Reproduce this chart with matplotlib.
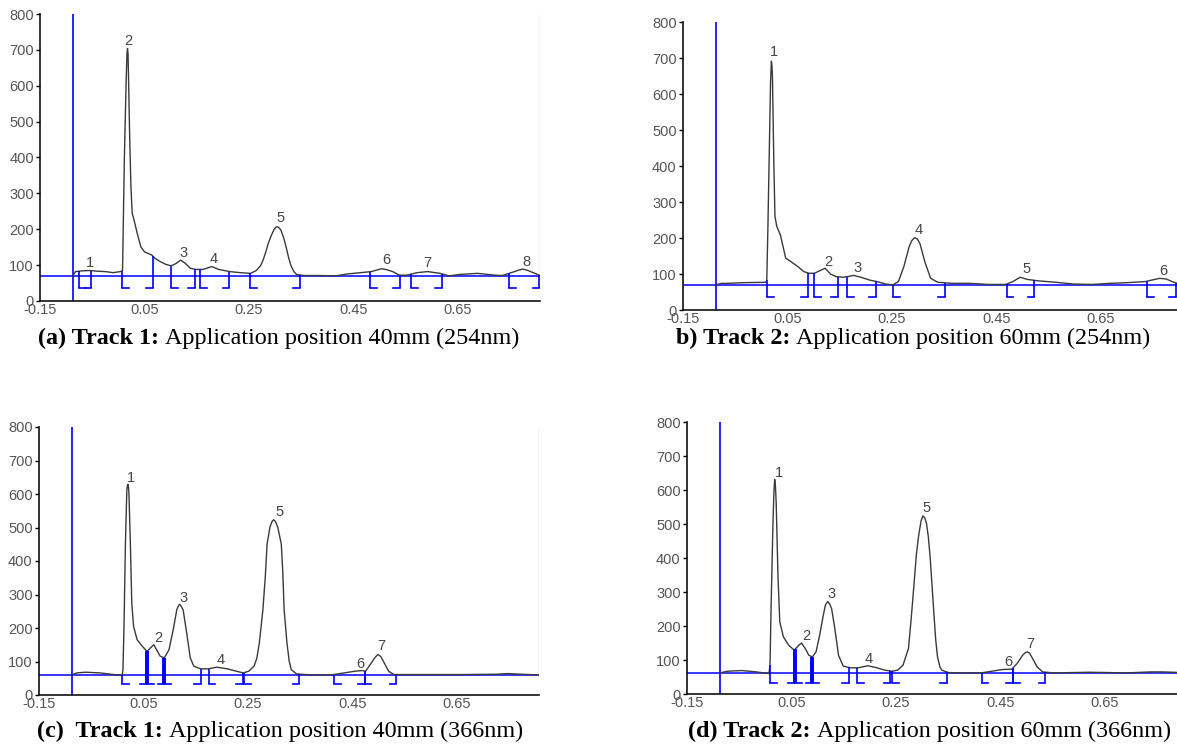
import matplotlib
matplotlib.use('Agg')
import matplotlib.pyplot as plt
import numpy as np

plt.rcParams['font.family'] = ['Liberation Sans', 'DejaVu Sans']
plt.rcParams['axes.unicode_minus'] = False

W, H = 1177, 749
XMIN, XMAX = -0.15, 0.807
xtick_vals = [-0.15, 0.05, 0.25, 0.45, 0.65]
xtick_labels = ['-0.15', '0.05', '0.25', '0.45', '0.65']
ytick_vals = [0, 100, 200, 300, 400, 500, 600, 700, 800]
start_line = -0.087

# ---------------- (a) Track 1, 254 nm ----------------
rf_a = [-0.088, -0.082, -0.070, -0.055, -0.040, -0.025, -0.010, 0.004, 0.008, 0.0115,
        0.015, 0.0165, 0.0175, 0.0185, 0.0195, 0.0215, 0.024, 0.0265, 0.030, 0.036,
        0.043, 0.050, 0.064, 0.070, 0.080, 0.091, 0.101, 0.111, 0.119, 0.128,
        0.138, 0.148, 0.162, 0.179, 0.192, 0.213, 0.233, 0.253, 0.264, 0.272,
        0.277, 0.282, 0.287, 0.2925, 0.2975, 0.301, 0.304, 0.307, 0.311, 0.316,
        0.321, 0.326, 0.331, 0.336, 0.341, 0.355, 0.382, 0.416, 0.436, 0.464,
        0.484, 0.494, 0.504, 0.514, 0.525, 0.538, 0.552, 0.572, 0.592, 0.616,
        0.633, 0.653, 0.687, 0.721, 0.735, 0.752, 0.764, 0.774, 0.782, 0.789,
        0.807]
au_a = [68, 82, 84, 85, 83, 82, 79, 82, 85, 400,
        620, 690, 704, 690, 620, 467, 320, 244, 226, 189,
        151, 137, 128, 119, 110, 102, 98, 105, 114, 105,
        91, 88, 88, 96, 88, 82, 79, 77, 85, 98,
        114, 136, 161, 182, 198, 205, 207, 205, 198, 178,
        151, 120, 96, 82, 74, 71, 71, 70, 75, 79,
        82, 86, 90, 87, 82, 72, 72, 79, 82, 77,
        70, 74, 77, 72, 71, 79, 85, 89, 86, 82,
        71]
base_a = 70
starts_a = [-0.0754, 0.0073, 0.1008, 0.1564, 0.2520, 0.4825, 0.5605, 0.7483]
ends_a = [-0.0517, 0.0656, 0.1463, 0.2127, 0.3469, 0.5381, 0.6195, 0.8059]
lab_x_a = [-0.055, 0.0195, 0.1246, 0.1822, 0.3110, 0.5131, 0.5910, 0.7808]
lab_y_a = [105, 726, 133, 116, 230, 114, 105, 110]
lab_t_a = ['1', '2', '3', '4', '5', '6', '7', '8']

# ---------------- (b) Track 2, 254 nm ----------------
rf_b = [-0.087, -0.0767, -0.0664, -0.0322, 0.0089, 0.0103, 0.0123, 0.0158, 0.0175, 0.0192,
        0.0202, 0.0212, 0.0240, 0.0260, 0.0295, 0.0363, 0.0466, 0.0568, 0.0705, 0.0808,
        0.0911, 0.1014, 0.1116, 0.1219, 0.1322, 0.1425, 0.1562, 0.1664, 0.1767, 0.1904,
        0.2075, 0.2212, 0.2384, 0.2521, 0.2623, 0.2726, 0.2829, 0.2880, 0.2932, 0.2985,
        0.3034, 0.3137, 0.3240, 0.3377, 0.3651, 0.3993, 0.4336, 0.4678, 0.4815, 0.4952,
        0.5089, 0.5295, 0.5637, 0.5979, 0.6322, 0.6664, 0.7007, 0.7349, 0.7500, 0.7623,
        0.7750, 0.7863, 0.8021]
au_b = [70, 74, 74, 76, 77, 83, 213, 491, 630, 691,
        680, 649, 398, 260, 232, 209, 144, 134, 120, 107,
        102, 102, 109, 116, 100, 93, 91, 93, 96, 91,
        83, 79, 72, 70, 79, 120, 176, 193, 201, 197,
        185, 130, 88, 77, 74, 74, 71, 71, 79, 91,
        85, 81, 77, 72, 71, 74, 76, 79, 84, 88,
        86, 79, 71]
base_b = 69
starts_b = [0.0103, 0.1014, 0.1644, 0.2514, 0.4692, 0.7390]
ends_b = [0.0897, 0.1459, 0.2185, 0.3514, 0.5226, 0.7932]
lab_x_b = [0.0247, 0.1288, 0.1836, 0.3020, 0.5075, 0.7690]
lab_y_b = [716, 134, 118, 222, 113, 107]
lab_t_b = ['1', '2', '3', '4', '5', '6']

# ---------------- (c) Track 1, 366 nm ----------------
rf_c = [-0.0856, -0.0775, -0.0605, -0.0334, -0.0063, 0.0093, 0.0107, 0.0127, 0.0154, 0.0181,
        0.0192, 0.0202, 0.0212, 0.0222, 0.0249, 0.0276, 0.0310, 0.0378, 0.0480, 0.0568,
        0.0649, 0.0697, 0.0751, 0.0819, 0.0900, 0.0988, 0.1069, 0.1137, 0.1165, 0.1192,
        0.1220, 0.1259, 0.1327, 0.1395, 0.1463, 0.1598, 0.1734, 0.1903, 0.2107, 0.2276,
        0.2412, 0.2514, 0.2615, 0.2670, 0.2717, 0.2785, 0.2830, 0.2866, 0.2920, 0.2960,
        0.2990, 0.3025, 0.3070, 0.3137, 0.3165, 0.3192, 0.3246, 0.3290, 0.3327, 0.3429,
        0.3598, 0.3869, 0.4141, 0.4344, 0.4547, 0.4683, 0.4751, 0.4853, 0.4930, 0.4988,
        0.5040, 0.5090, 0.5192, 0.5293, 0.5564, 0.5903, 0.6581, 0.7259, 0.7463, 0.7734,
        0.8053]
au_c = [61, 66, 68, 66, 61, 59, 76, 205, 451, 610,
        625, 629, 622, 600, 451, 274, 205, 165, 145, 130,
        143, 150, 135, 116, 111, 135, 195, 254, 265, 271,
        265, 254, 185, 111, 86, 78, 78, 83, 78, 71,
        66, 71, 86, 110, 155, 254, 350, 451, 501, 518,
        523, 518, 501, 451, 370, 254, 155, 100, 76, 63,
        61, 59, 61, 66, 71, 73, 71, 94, 112, 121,
        115, 101, 71, 61, 61, 61, 61, 62, 64, 62,
        60]
base_c = 61
starts_c = [0.0093, 0.0568, 0.0900, 0.1747, 0.2425, 0.4141, 0.4731]
ends_c = [0.0568, 0.0900, 0.1598, 0.2398, 0.3483, 0.4731, 0.5341]
thick_c = [0.0568, 0.0900]
lab_x_c = [0.0263, 0.0785, 0.1260, 0.1985, 0.3100, 0.4650, 0.5056]
lab_y_c = [647, 170, 291, 104, 545, 94, 145]
lab_t_c = ['1', '2', '3', '4', '5', '6', '7']

# ---------------- (d) Track 2, 366 nm ----------------
rf_d = [-0.0869, -0.0730, -0.0452, -0.0175, 0.0068, 0.0089, 0.0109, 0.0144, 0.0165, 0.0179,
        0.0193, 0.0207, 0.0241, 0.0276, 0.0345, 0.0449, 0.0553, 0.0637, 0.0692, 0.0762,
        0.0831, 0.0900, 0.0970, 0.1039, 0.1108, 0.1150, 0.1192, 0.1230, 0.1268, 0.1330,
        0.1400, 0.1490, 0.1629, 0.1767, 0.1962, 0.2114, 0.2288, 0.2426, 0.2531, 0.2635,
        0.2739, 0.2790, 0.2843, 0.2890, 0.2933, 0.2981, 0.3016, 0.3051, 0.3086, 0.3121,
        0.3155, 0.3190, 0.3224, 0.3260, 0.3294, 0.3340, 0.3377, 0.3502, 0.3849, 0.4126,
        0.4334, 0.4542, 0.4716, 0.4820, 0.4924, 0.4970, 0.5014, 0.5056, 0.5098, 0.5201,
        0.5306, 0.5514, 0.6207, 0.6901, 0.7387, 0.7595, 0.7803, 0.8067]
au_d = [62, 67, 69, 65, 60, 85, 251, 495, 600, 631,
        610, 563, 348, 212, 168, 143, 129, 143, 150, 134,
        114, 109, 124, 173, 231, 262, 272, 265, 251, 192,
        114, 82, 77, 77, 83, 78, 70, 67, 70, 85,
        134, 220, 319, 410, 465, 510, 524, 518, 500, 460,
        400, 320, 240, 160, 110, 80, 70, 63, 62, 62,
        67, 72, 73, 90, 114, 121, 124, 120, 109, 80,
        65, 62, 64, 62, 65, 65, 64, 62]
base_d = 62
starts_d = [0.0089, 0.0567, 0.0900, 0.1754, 0.2426, 0.4140, 0.4737]
ends_d = [0.0567, 0.0900, 0.1594, 0.2392, 0.3481, 0.4737, 0.5361]
thick_d = [0.0567, 0.0900]
lab_x_d = [0.0262, 0.0782, 0.1268, 0.1976, 0.3086, 0.4647, 0.5063]
lab_y_d = [651, 171, 295, 104, 546, 95, 146]
lab_t_d = ['1', '2', '3', '4', '5', '6', '7']

BLUE = '#0000ff'
CURVE = '#3a3a3a'
TICKC = '#555555'
FOOT_W = 0.013

fig = plt.figure(figsize=(W / 100, H / 100), dpi=100)


def px_rect(left, top, width, bottom):
    return [left / W, 1 - bottom / H, width / W, (bottom - top) / H]


def panel(rect, rf, au, base, foot, starts, ends, thick, lx, ly, lt, edge_line):
    ax = fig.add_axes(rect)
    ax.set_xlim(XMIN, XMAX)
    ax.set_ylim(0, 800)
    for s in ['top', 'right']:
        ax.spines[s].set_visible(False)
    for s in ['left', 'bottom']:
        ax.spines[s].set_linewidth(1.2)
        ax.spines[s].set_color('#111111')
    ax.set_xticks(xtick_vals)
    ax.set_xticklabels(xtick_labels)
    ax.set_yticks(ytick_vals)
    ax.tick_params(axis='y', length=3, width=1, pad=1.5, labelsize=10.5, labelcolor=TICKC)
    ax.tick_params(axis='x', length=0, pad=1.5, labelsize=10.5, labelcolor=TICKC)
    ax.patch.set_alpha(0)
    # start line and baseline
    ax.axvline(start_line, color=BLUE, lw=1.2, zorder=2)
    ax.axhline(base, color=BLUE, lw=1.1, zorder=2)
    if edge_line:
        ax.vlines(XMAX - 0.0005, base, 800, color='#c8c8ff', lw=1.0, zorder=1)
    # densitogram
    ax.plot(rf, au, color=CURVE, lw=1.0, zorder=3, solid_joinstyle='round')
    # integration markers
    for s in starts:
        lw = 2.6 if s in thick else 1.2
        top = np.interp(s, rf, au)
        ax.plot([s, s], [foot, top], color=BLUE, lw=lw, zorder=4, solid_capstyle='butt')
        ax.plot([s, s + FOOT_W], [foot, foot], color=BLUE, lw=1.2, zorder=4)
    for e in ends:
        lw = 2.6 if e in thick else 1.2
        top = np.interp(e, rf, au)
        ax.plot([e, e], [foot, top], color=BLUE, lw=lw, zorder=4, solid_capstyle='butt')
        ax.plot([e - FOOT_W, e], [foot, foot], color=BLUE, lw=1.2, zorder=4)
    for x, y, t in zip(lx, ly, lt):
        ax.text(x, y, t, ha='center', va='center', fontsize=10.5, color='#444444')
    return ax


panel(px_rect(40, 14, 500, 301), rf_a, au_a, base_a, 36, starts_a, ends_a, [],
      lab_x_a, lab_y_a, lab_t_a, True)
panel(px_rect(683, 22, 500, 310), rf_b, au_b, base_b, 37, starts_b, ends_b, [],
      lab_x_b, lab_y_b, lab_t_b, False)
panel(px_rect(39, 427, 500, 695), rf_c, au_c, base_c, 32, starts_c, ends_c, thick_c,
      lab_x_c, lab_y_c, lab_t_c, True)
panel(px_rect(687, 422, 500, 694), rf_d, au_d, base_d, 31, starts_d, ends_d, thick_d,
      lab_x_d, lab_y_d, lab_t_d, False)

CAP_FS = 17.4
captions = [
    (38, 338, '(a) Track 1:', 'Application position 40mm (254nm)'),
    (676, 338, 'b) Track 2:', 'Application position 60mm (254nm)'),
    (37, 731, '(c)  Track 1:', 'Application position 40mm (366nm)'),
    (688, 731, '(d) Track 2:', 'Application position 60mm (366nm)'),
]
fig.canvas.draw()
renderer = fig.canvas.get_renderer()
for x, y, b, n in captions:
    t = fig.text(x / W, 1 - y / H, b, family='Liberation Serif', weight='bold',
                 fontsize=CAP_FS, va='center', ha='left', color='black')
    bb = t.get_window_extent(renderer=renderer)
    gap = 0.25 * CAP_FS * 100 / 72
    fig.text((bb.x1 + gap) / W, 1 - y / H, n, family='Liberation Serif',
             fontsize=CAP_FS, va='center', ha='left', color='black')

fig.savefig('out.png', dpi=100)
